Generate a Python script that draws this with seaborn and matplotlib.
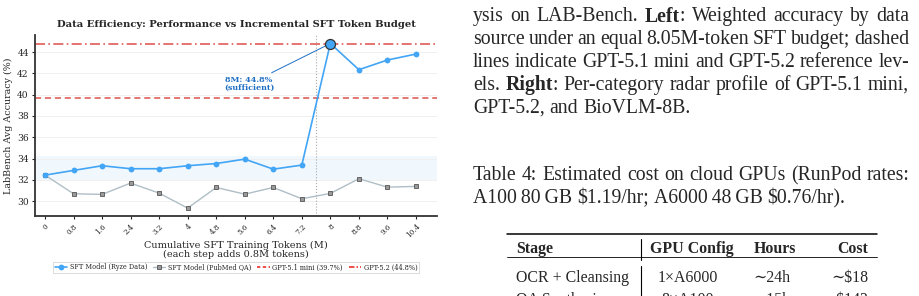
import matplotlib
matplotlib.use("Agg")
import matplotlib.pyplot as plt
from matplotlib.lines import Line2D
import pandas as pd
import seaborn as sns

# ---------------- data ----------------
tokens_m = [0, 0.8, 1.6, 2.4, 3.2, 4.0, 4.8, 5.6, 6.4, 7.2, 8.0, 8.8, 9.6, 10.4]
tick_labels = ["0", "0.8", "1.6", "2.4", "3.2", "4", "4.8", "5.6", "6.4", "7.2",
               "8", "8.8", "9.6", "10.4"]
ryze_acc = [32.44, 32.88, 33.32, 33.04, 33.04, 33.32, 33.53, 33.94, 33.00, 33.38,
            44.8, 42.34, 43.25, 43.81]
pubmed_acc = [32.44, 30.69, 30.63, 31.69, 30.75, 29.34, 31.28, 30.65, 31.28, 30.22,
              30.72, 32.10, 31.31, 31.38]
gpt51_mini = 39.7
gpt52 = 44.8
band_low, band_high = 32.0, 34.25
sufficient_x = 8.0
sufficient_y = 44.8
divider_x = 7.6

series_names = ["SFT Model (Ryze Data)", "SFT Model (PubMed QA)"]
ref_names = ["GPT-5.1 mini (39.7%)", "GPT-5.2 (44.8%)"]

# ---------------- style ----------------
sns.set_theme(style="ticks")
plt.rcParams["font.family"] = ["DejaVu Serif"]

W, H = 919, 296
fig = plt.figure(figsize=(W / 100, H / 100), dpi=100)
fig.patch.set_facecolor("white")
ax = fig.add_axes([35 / W, 1 - 216 / H, 402 / W, 181 / H])

BLUE = "#42A5F5"
GREY_LINE = "#AFBEC6"
RED = "#D9403A"

df = pd.DataFrame({"tokens": tokens_m, "ryze": ryze_acc, "pubmed": pubmed_acc})

ax.axhspan(band_low, band_high, color="#1E88E5", alpha=0.06, lw=0, zorder=0)
for yv in [30, 32, 34, 36, 38, 40, 42, 44]:
    ax.axhline(yv, color="#EEEEEE", lw=0.6, zorder=0)

sns.lineplot(data=df, x="tokens", y="ryze", ax=ax, color=BLUE, lw=1.2,
             marker="o", markersize=4.2, markeredgewidth=0, zorder=4,
             label=series_names[0])
sns.lineplot(data=df, x="tokens", y="pubmed", ax=ax, color=GREY_LINE, lw=1.0,
             marker="s", markersize=3.2, markerfacecolor="#9A9A9A",
             markeredgecolor="#555555", markeredgewidth=0.6, zorder=3,
             label=series_names[1])
ax.axhline(gpt51_mini, color=RED, ls=(0, (4, 2.5)), lw=1.1, alpha=0.9, zorder=2)
ax.axhline(gpt52, color=RED, ls=(0, (6, 2, 1, 2)), lw=1.2, alpha=0.85, zorder=2)
ax.axvline(divider_x, color="#AAAAAA", ls=":", lw=0.8, zorder=1)

ax.plot([sufficient_x], [sufficient_y], "o", ms=7.2, mfc=BLUE, mec="#333333",
        mew=0.9, zorder=6)
ax.annotate("8M: 44.8%\n(sufficient)", xy=(sufficient_x, sufficient_y),
            xytext=(5.72, 41.0), ha="center", va="center", fontsize=5.8,
            fontweight="bold", color="#1F6FC5", linespacing=1.0,
            arrowprops=dict(arrowstyle="-", color="#1F6FC5", lw=0.7,
                            shrinkA=0, shrinkB=3), zorder=5)

ax.set_xlim(-0.28, 10.99)
ax.set_ylim(28.6, 45.6)
ax.set_xticks(tokens_m)
ax.set_xticklabels(tick_labels, rotation=45, ha="right", rotation_mode="anchor",
                   fontsize=5.2)
ax.set_yticks([30, 32, 34, 36, 38, 40, 42, 44])
ax.tick_params(axis="y", labelsize=6.6, length=2.5, width=0.8, pad=2)
ax.tick_params(axis="x", length=2.5, width=0.8, pad=2)
for sp in ["top", "right"]:
    ax.spines[sp].set_visible(False)
for sp in ["left", "bottom"]:
    ax.spines[sp].set_linewidth(1.3)
    ax.spines[sp].set_color("#333333")

ax.set_title("Data Efficiency: Performance vs Incremental SFT Token Budget",
             fontsize=7.2, fontweight="bold", pad=6)
ax.set_xlabel("Cumulative SFT Training Tokens (M)\n(each step adds 0.8M tokens)",
              fontsize=7.0, linespacing=1.0, labelpad=1)
ax.set_ylabel("LabBench Avg Accuracy (%)", fontsize=6.8, labelpad=3)

handles, labels = ax.get_legend_handles_labels()
handles = handles[:2] + [
    Line2D([], [], color="#E8201A", lw=1.1, ls=(0, (2.2, 1.6))),
    Line2D([], [], color="#E8201A", lw=1.1, ls=(0, (3.6, 1.3, 1.0, 1.3))),
]
labels = labels[:2] + ref_names
leg = ax.legend(handles, labels, loc="upper center", bbox_to_anchor=(0.5, -0.235),
                ncol=4, fontsize=4.7, frameon=True, handlelength=1.9,
                columnspacing=0.9, borderpad=0.25, handletextpad=0.4,
                fancybox=False)
leg.get_frame().set_edgecolor("#CCCCCC")
leg.get_frame().set_linewidth(0.6)

# ---------------- page text on the right ----------------
FAM = ["Liberation Serif", "DejaVu Serif"]
CAP_FS = 14.2
renderer = fig.canvas.get_renderer()


def ptext(x, y, s, **kw):
    kw.setdefault("family", FAM)
    kw.setdefault("fontsize", 11.4)
    kw.setdefault("va", "center")
    return fig.text(x / W, 1 - y / H, s, **kw)


def text_width(segs, fs):
    total = 0
    for s, wt in segs:
        t = fig.text(0, 0, s, family=FAM, fontsize=fs, fontweight=wt)
        total += t.get_window_extent(renderer).width
        t.remove()
    return total


def draw_line(words, x0, x1, y, fs, justify=True):
    widths = [text_width(w, fs) for w in words]
    space = text_width([(" ", "normal")], fs)
    if justify and len(words) > 1:
        gap = (x1 - x0 - sum(widths)) / (len(words) - 1)
    else:
        gap = space
    x = x0
    for w, wd in zip(words, widths):
        xx = x
        for s, wt in w:
            t = ptext(xx, y, s, fontsize=fs, fontweight=wt)
            xx += t.get_window_extent(renderer).width
        x += wd + gap


def plain(line):
    return [[(w, "normal")] for w in line.split(" ")]


caption_lines = [
    plain("ysis on LAB-Bench.") + [[("Left", "bold"), (":", "normal")]]
    + plain("Weighted accuracy by data"),
    plain("source under an equal 8.05M-token SFT budget; dashed"),
    plain("lines indicate GPT-5.1 mini and GPT-5.2 reference lev-"),
    plain("els.") + [[("Right", "bold"), (":", "normal")]]
    + plain("Per-category radar profile of GPT-5.1 mini,"),
    plain("GPT-5.2, and BioVLM-8B."),
]
for i, words in enumerate(caption_lines):
    draw_line(words, 473, 909, 16.5 + i * 22.9, CAP_FS, justify=(i < 4))

draw_line(plain("Table 4: Estimated cost on cloud GPUs (RunPod rates:"),
          473, 910, 176, CAP_FS, justify=True)
draw_line([[("A100\u200980\u2009GB", "normal")], [("\\$1.19/hr;", "normal")],
           [("A6000\u200948\u2009GB", "normal")], [("\\$0.76/hr).", "normal")]],
          473, 910, 198.5, CAP_FS, justify=False)


def hline(x0, x1, y, lw):
    fig.add_artist(Line2D([x0 / W, x1 / W], [1 - y / H, 1 - y / H], color="black",
                          lw=lw, transform=fig.transFigure))


def vline(x, y0, y1, lw=0.8):
    fig.add_artist(Line2D([x / W, x / W], [1 - y0 / H, 1 - y1 / H], color="black",
                          lw=lw, transform=fig.transFigure))


hline(507, 877, 234, 1.1)
hline(507, 877, 256.5, 0.6)
vline(641, 239, 260)
vline(641, 266, 296)

ptext(516, 249, "Stage", fontweight="bold")
ptext(692, 249, "GPU Config", fontweight="bold", ha="center")
ptext(775, 249, "Hours", fontweight="bold", ha="center")
ptext(868, 249, "Cost", fontweight="bold", ha="right")

ptext(516, 278, "OCR + Cleansing")
ptext(688, 278, "1\u00d7A6000", ha="center")
ptext(772, 278, "\u223c24h", ha="center")
ptext(868, 278, "\u223c\\$18", ha="right")

ptext(516, 300, "QA Synthesis")
ptext(688, 300, "8\u00d7A100", ha="center")
ptext(772, 300, "\u223c15h", ha="center")
ptext(868, 300, "\u223c\\$143", ha="right")

fig.savefig("out.png", dpi=100, facecolor="white")
